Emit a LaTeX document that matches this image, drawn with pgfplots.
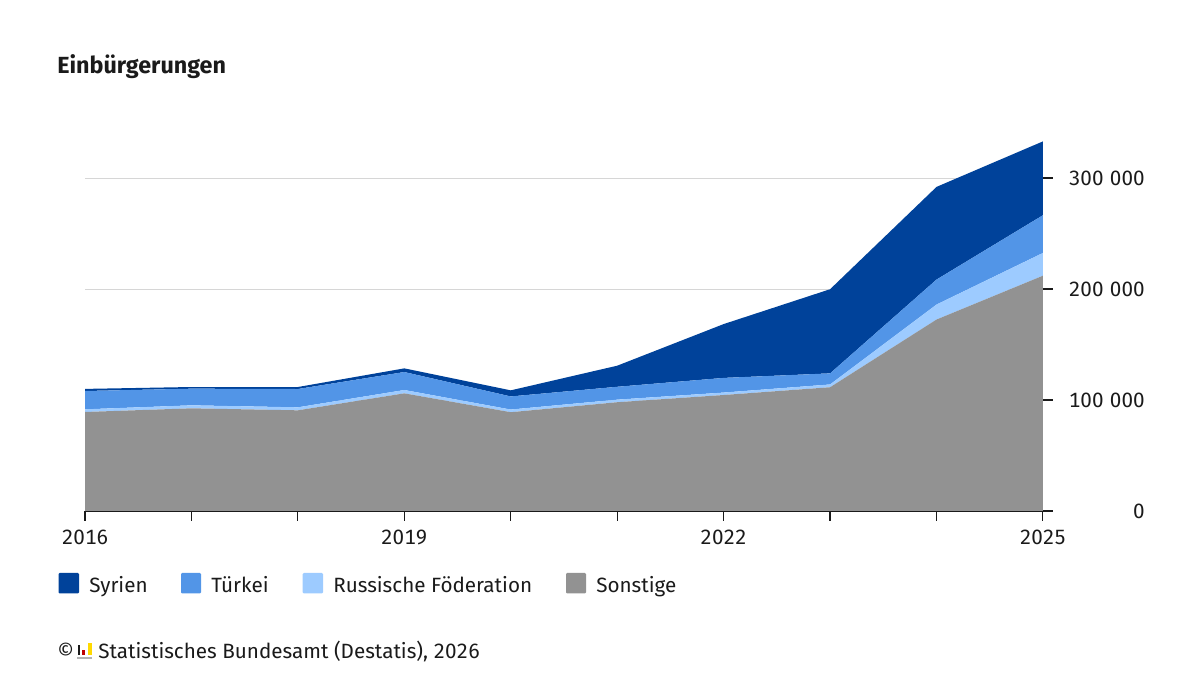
\documentclass[border=0pt]{standalone}
\usepackage{pgfplots}
\pgfplotsset{compat=1.18}
\usepackage{fontspec}
\setmainfont{Fira Sans}[Numbers=Tabular]
\definecolor{syrien}{HTML}{00429A}
\definecolor{tuerkei}{HTML}{5295E7}
\definecolor{russland}{HTML}{9DCBFF}
\definecolor{sonstige}{HTML}{929292}
\definecolor{textc}{HTML}{1A1A1A}
\pgfplotstableread{
year sonstige russland tuerkei syrien
2016 89200 2400 16500 1900
2017 92500 2700 15000 1500
2018 90700 2700 16500 1800
2019 106000 3000 16200 3300
2020 89000 2400 11800 5500
2021 98000 2300 11600 19000
2022 104500 2200 13200 48500
2023 111500 2500 10000 75800
2024 172500 13500 22500 83500
2025 212000 20500 34000 66500
}\einb
\pgfplotsset{
    layers/chartlayers/.define layer set={axis background,axis grid,main,axis ticks,axis lines,axis tick labels,axis descriptions,axis foreground}{},
}
\newcommand{\gap}{\hspace{0.31em}}
\begin{document}
\begin{tikzpicture}[x=0.75pt,y=0.75pt,every node/.style={text=textc,inner sep=0pt}]
\path (0,0) rectangle (1200,675);
\begin{axis}[
    set layers=chartlayers,
    at={(63.75pt,123pt)},anchor=origin,
    scale only axis,
    width=718.5pt,
    height=283.05pt,
    xmin=2016,xmax=2025,
    ymin=0,ymax=340000,
    stack plots=y,
    area style,
    axis on top=false,
    axis y line*=right,
    axis x line*=bottom,
    axis line style={textc,line width=0.9pt,-},
    y axis line style={draw=none},
    xtick={2016,...,2025},
    xticklabels={2016,,,2019,,,2022,,,2025},
    x tick label style={font=\fontsize{15.5}{17}\selectfont,yshift=-6.5pt},
    scaled y ticks=false,
    ytick={0,100000,200000,300000},
    yticklabels={0,100\gap000,200\gap000,300\gap000},
    y tick label style={font=\fontsize{15.5}{17}\selectfont,anchor=east,xshift=69pt},
    tick style={textc,line width=0.9pt},
    major tick length=7.5pt,
    tick align=outside,
    ymajorgrids,
    grid style={draw=black!16,line width=0.6pt},
]
\addplot[fill=sonstige,draw=none] table[x=year,y=sonstige] {\einb} \closedcycle;
\addplot[fill=russland,draw=none] table[x=year,y=russland] {\einb} \closedcycle;
\addplot[fill=tuerkei,draw=none] table[x=year,y=tuerkei] {\einb} \closedcycle;
\addplot[fill=syrien,draw=none] table[x=year,y=syrien] {\einb} \closedcycle;
\end{axis}
\node[anchor=base west,font=\fontsize{17.5}{19}\selectfont\bfseries] at (57,601) {Einbürgerungen};
\fill[syrien,rounded corners=0.8pt] (58.5,81.5) rectangle (79,102);
\node[anchor=base west,font=\fontsize{15.5}{17}\selectfont] at (89,82) {Syrien};
\fill[tuerkei,rounded corners=0.8pt] (181,81.5) rectangle (201,102);
\node[anchor=base west,font=\fontsize{15.5}{17}\selectfont] at (211,82) {Türkei};
\fill[russland,rounded corners=0.8pt] (302.7,81.5) rectangle (323,102);
\node[anchor=base west,font=\fontsize{15.5}{17}\selectfont] at (333,82) {Russische Föderation};
\fill[sonstige,rounded corners=0.8pt] (566,81.5) rectangle (586,102);
\node[anchor=base west,font=\fontsize{15.5}{17}\selectfont] at (596,82) {Sonstige};
\node[anchor=base west,font=\fontsize{15.5}{17}\selectfont] at (57,16.5) {©};
\fill[black!30] (76.7,15.7) rectangle (92,18.3);
\fill[textc] (77.7,20) rectangle (80,30);
\fill[red!75!black] (82,20) rectangle (85,25);
\fill[orange!30!yellow] (87.5,20) rectangle (91.7,31.5);
\node[anchor=base west,font=\fontsize{15.5}{17}\selectfont] at (98,16.5) {Statistisches Bundesamt (Destatis), 2026};
\end{tikzpicture}
\end{document}
